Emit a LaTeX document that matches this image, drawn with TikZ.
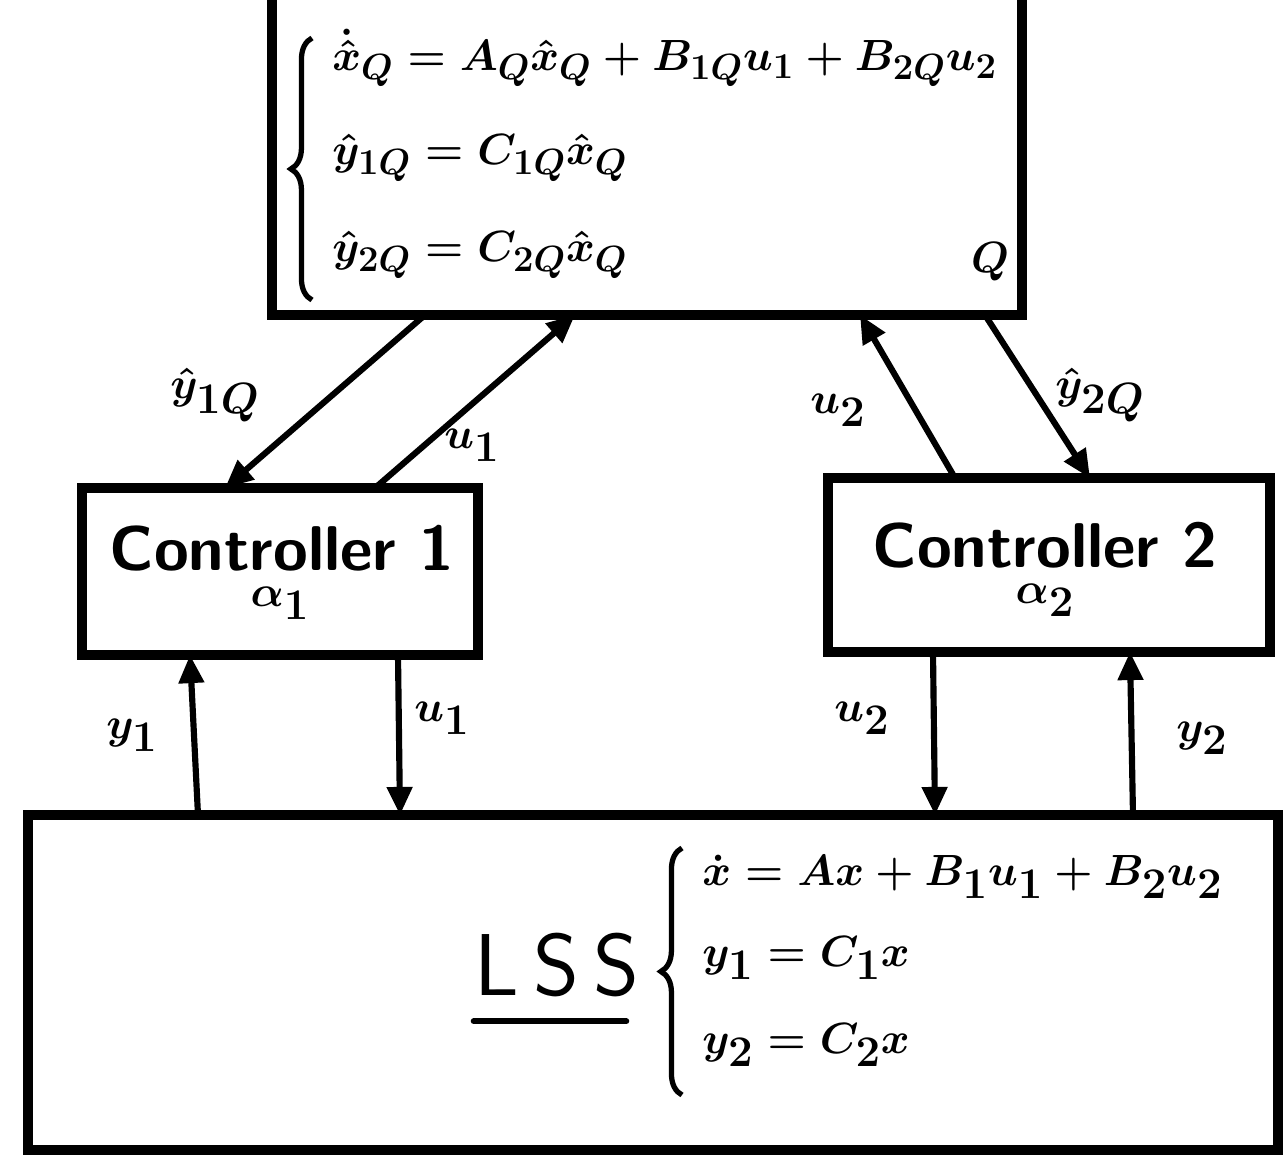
\documentclass[tikz,border=0pt]{standalone}
\usetikzlibrary{arrows.meta,calc,decorations.pathreplacing}
\begin{document}
\begin{tikzpicture}[x=0.02cm,y=-0.02cm,
  blk/.style={draw,line width=5.5pt,rectangle,outer sep=0pt,inner sep=0pt},
  sig/.style={line width=3.5pt,-{Triangle[length=16pt,width=14pt]}},
  lbl/.style={font=\fontsize{34}{38}\selectfont\boldmath},
  eq/.style={font=\fontsize{32}{38}\selectfont\boldmath,anchor=west,inner sep=0pt},
  leqs/.style={font=\fontsize{36}{40}\selectfont\boldmath,anchor=west,inner sep=0pt},
  ctext/.style={font=\fontsize{36}{38}\selectfont\sffamily\bfseries},
  brc/.style={decorate,decoration={brace,amplitude=12pt},line width=3pt}
]
\useasboundingbox (0,0) rectangle (1286,1175);
% boxes
\node[blk,minimum width=15cm,minimum height=6.9cm] (Q) at (647,142.5) {};
\node[blk,minimum width=7.92cm,minimum height=3.34cm] (c1) at (280,571.5) {};
\node[blk,minimum width=8.84cm,minimum height=3.48cm] (c2) at (1049,565) {};
\node[blk,minimum width=25cm,minimum height=6.7cm] (lss) at (653,982.5) {};
% texts in boxes
\node[ctext] (c1t) at (282,548) {Controller 1};
\node[lbl] (c1a) at (280,603) {$\alpha_1$};
\node[ctext] (c2t) at (1045,545) {Controller 2};
\node[lbl] (c2a) at (1045,600) {$\alpha_2$};
\node[lbl] (qq) at (990,262) {$Q$};
% Q equations
\draw[brc] (312,300) -- (312,38);
\node[eq] (q1) at (332,58) {$\dot{\hat{x}}_Q = A_Q\hat{x}_Q + B_{1Q}u_1 + B_{2Q}u_2$};
\node[eq] (q2) at (332,158) {$\hat{y}_{1Q} = C_{1Q}\hat{x}_Q$};
\node[eq] (q3) at (332,255) {$\hat{y}_{2Q} = C_{2Q}\hat{x}_Q$};
% LSS
\node[font=\fontsize{50}{54}\selectfont\sffamily,inner sep=0pt] (lsst) at (557,965) {L\,S\,S};
\draw[line width=3.5pt,line cap=round] ($(lsst.south west)+(0,24)$) -- ($(lsst.south east)+(-14,24)$);
\draw[brc] (682,1095) -- (682,848);
\node[leqs] (e1) at (702,877) {$\dot{x} = Ax + B_1u_1 + B_2u_2$};
\node[leqs] (e2) at (702,958) {$y_1 = C_1x$};
\node[leqs] (e3) at (702,1045) {$y_2 = C_2x$};
% connectors between Q and controllers
\draw[sig] (425,0 |- Q.south) -- (225,0 |- c1.north);
\draw[sig] (375,0 |- c1.north) -- (575,0 |- Q.south);
\draw[sig] (955,0 |- c2.north) -- (860,0 |- Q.south);
\draw[sig] (985,0 |- Q.south) -- (1090,0 |- c2.north);
% connectors between controllers and LSS
\draw[sig] (198,0 |- lss.north) -- (190,0 |- c1.south);
\draw[sig] (398,0 |- c1.south) -- (400,0 |- lss.north);
\draw[sig] (933,0 |- c2.south) -- (935,0 |- lss.north);
\draw[sig] (1133,0 |- lss.north) -- (1130,0 |- c2.south);
% labels
\node[lbl] (l1) at (215,395) {$\hat{y}_{1Q}$};
\node[lbl] (l2) at (472,445) {$u_1$};
\node[lbl] (l3) at (838,410) {$u_2$};
\node[lbl] (l4) at (1100,395) {$\hat{y}_{2Q}$};
\node[lbl] (l5) at (132,735) {$y_1$};
\node[lbl] (l6) at (442,718) {$u_1$};
\node[lbl] (l7) at (862,718) {$u_2$};
\node[lbl] (l8) at (1202,738) {$y_2$};
\end{tikzpicture}
\end{document}
